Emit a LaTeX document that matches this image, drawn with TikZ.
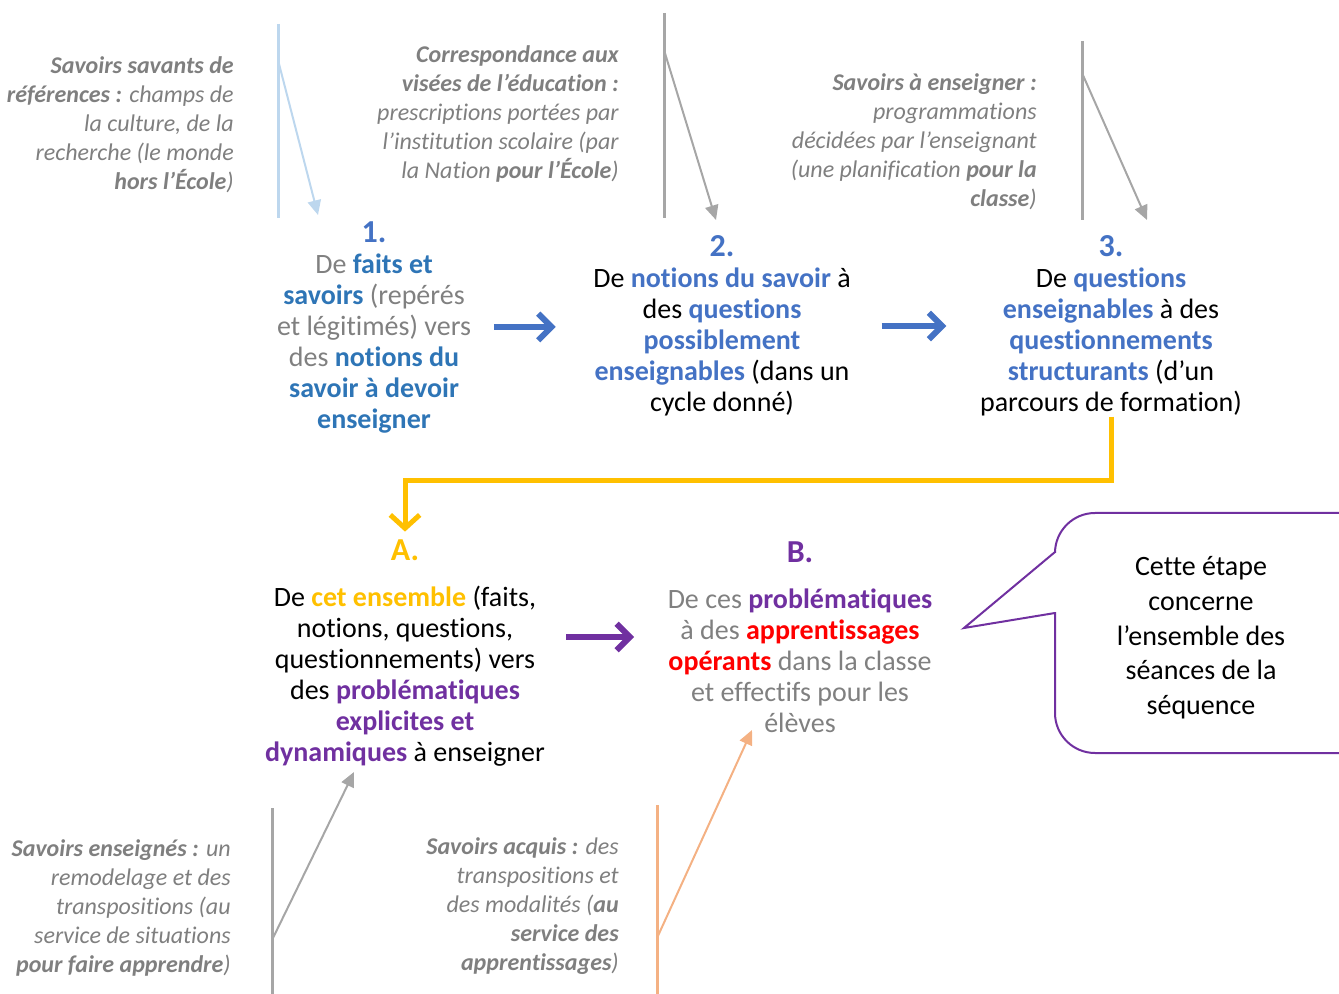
\documentclass[tikz,border=0pt]{standalone}
\usepackage{fontspec}
\setmainfont{Carlito}[Ligatures=CommonOff]
\usetikzlibrary{arrows.meta}
\definecolor{stepblue}{HTML}{4472C4}
\definecolor{deepblue}{HTML}{2E75B6}
\definecolor{notegray}{HTML}{7F7F7F}
\definecolor{textgray}{HTML}{808080}
\definecolor{paleblue}{HTML}{BDD7EE}
\definecolor{rulegray}{HTML}{A6A6A6}
\definecolor{gold}{HTML}{FFC000}
\definecolor{prpl}{HTML}{7030A0}
\definecolor{peach}{HTML}{F4B183}
\newcommand{\hl}[2]{\textbf{\color{#1}#2}}
\newcommand{\stepnum}[2]{{\fontsize{24}{23.25}\selectfont\hl{#1}{#2}}}

\begin{document}
\begin{tikzpicture}[x=0.75pt, y=-0.75pt,
    block/.style={align=center, inner sep=0pt, font=\fontsize{21}{23.25}\selectfont},
    note/.style={align=right, anchor=east, inner sep=0pt, text=notegray, font=\fontsize{18}{21.75}\selectfont\itshape},
    rule/.style={line width=2.25pt},
    feed/.style={line width=1.5pt, -{Triangle[length=11pt, width=10pt]}},
    flow/.style={line width=4.5pt, -{Straight Barb[length=10pt, width=20pt]}}]
    \clip (0,0) rectangle (1339,994);

    \node[note] (n1) at (234,125) {\textbf{Savoirs savants de}\\ \textbf{références :} champs de\\ la culture, de la\\ recherche (le monde\\ \textbf{hors l’École})};
    \node[note] (n2) at (619,114) {\textbf{Correspondance aux}\\ \textbf{visées de l’éducation :}\\ prescriptions portées par\\ l’institution scolaire (par\\ la Nation \textbf{pour l’École})};
    \node[note] (n3) at (1037,142) {\textbf{Savoirs à enseigner :}\\ programmations\\ décidées par l’enseignant\\ (une planification \textbf{pour la}\\ \textbf{classe})};
    \node[note] (n4) at (231,908) {\textbf{Savoirs enseignés :} un\\ remodelage et des\\ transpositions (au\\ service de situations\\ \textbf{pour faire apprendre})};
    \node[note] (n5) at (619,906) {\textbf{Savoirs acquis :} des\\ transpositions et\\ des modalités (\textbf{au}\\ \textbf{service des}\\ \textbf{apprentissages})};

    \node[block, text=textgray] (b1) at (374,327) {\stepnum{stepblue}{1.}\\ De \hl{deepblue}{faits et}\\ \hl{deepblue}{savoirs} (repérés\\ et légitimés) vers\\ des \hl{deepblue}{notions du}\\ \hl{deepblue}{savoir à devoir}\\ \hl{deepblue}{enseigner}};
    \node[block] (b2) at (722,326) {\stepnum{stepblue}{2.}\\ De \hl{stepblue}{notions du savoir} à\\ des \hl{stepblue}{questions}\\ \hl{stepblue}{possiblement}\\ \hl{stepblue}{enseignables} (dans un\\ cycle donné)};
    \node[block] (b3) at (1111,326) {\stepnum{stepblue}{3.}\\ De \hl{stepblue}{questions}\\ \hl{stepblue}{enseignables} à des\\ \hl{stepblue}{questionnements}\\ \hl{stepblue}{structurants} (d’un\\ parcours de formation)};
    \node[block] (bA) at (405,653) {\stepnum{gold}{A.}\\[11pt] De \hl{gold}{cet ensemble} (faits,\\ notions, questions,\\ questionnements) vers\\ des \hl{prpl}{problématiques}\\ \hl{prpl}{explicites et}\\ \hl{prpl}{dynamiques} à enseigner};
    \node[block, text=textgray] (bB) at (800,637) {\stepnum{prpl}{B.}\\[11pt] De ces \hl{prpl}{problématiques}\\ à des \hl{red}{apprentissages}\\ \hl{red}{opérants} dans la classe\\ et effectifs pour les\\ élèves};
    \node[block, font=\fontsize{21}{26}\selectfont] (bubble) at (1201,638) {Cette étape\\ concerne\\ l’ensemble des\\ séances de la\\ séquence};

    \draw[rule, paleblue] (278,24) -- (278,218);
    \draw[rule, rulegray] (664,13) -- (664,218);
    \draw[rule, rulegray] (1082,41) -- (1082,220);
    \draw[rule, rulegray] (272,808) -- (272,994);
    \draw[rule, peach] (657,805) -- (657,994);

    \coordinate (s1) at (278,60);   \coordinate (e1) at (318,215);
    \coordinate (s2) at (664,50);   \coordinate (e2) at (716,220);
    \coordinate (s3) at (1082,73);  \coordinate (e3) at (1147,220);
    \coordinate (s4) at (272,940);  \coordinate (e4) at (354,772);
    \coordinate (s5) at (657,938);  \coordinate (e5) at (752,730);
    \draw[feed, paleblue] (s1) -- (e1);
    \draw[feed, rulegray] (s2) -- (e2);
    \draw[feed, rulegray] (s3) -- (e3);
    \draw[feed, rulegray] (s4) -- (e4);
    \draw[feed, peach] (s5) -- (e5);

    \draw[flow, stepblue, shorten <=17pt, shorten >=28pt] (b1.east) -- (b1.east -| b2.west);
    \draw[flow, stepblue, shorten <=23pt, shorten >=25pt] (b2.east) -- (b2.east -| b3.west);
    \draw[flow, prpl, shorten <=16pt, shorten >=25pt] (bA.east |- bB.west) -- (bB.west);
    \draw[gold, line width=3.75pt, -{Straight Barb[length=10pt, width=22pt]}] (b3.south) -- (b3.south |- 0,481) -| ([yshift=6pt]bA.north);

    \draw[prpl, line width=1.5pt, rounded corners=30pt] (1055,513) rectangle (1380,753);
    \fill[white] (1052,553) rectangle (1058,612);
    \draw[prpl, line width=1.5pt, line join=miter] (1055,552) -- (964,628) -- (1055,613);
\end{tikzpicture}
\end{document}
